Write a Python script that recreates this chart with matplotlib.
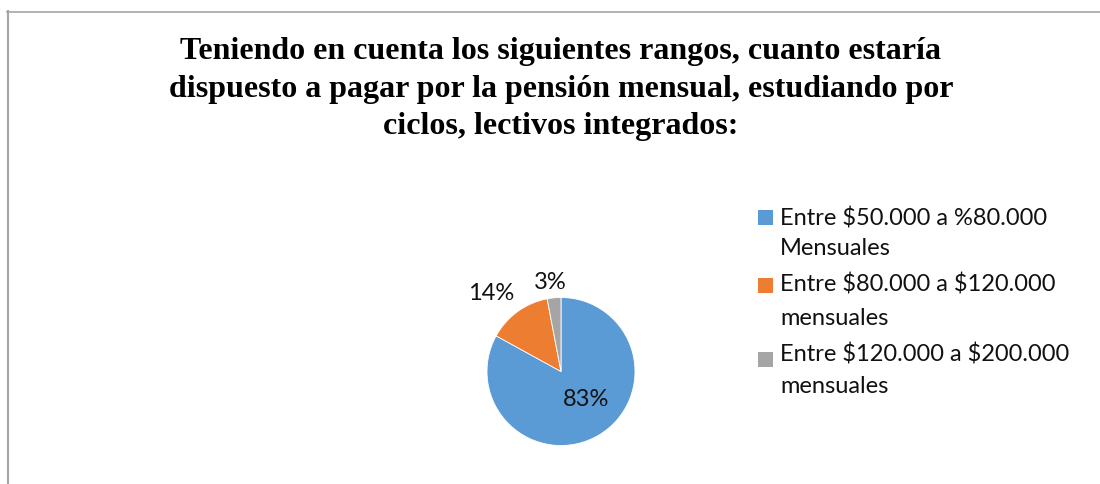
import matplotlib
matplotlib.use("Agg")
import matplotlib.pyplot as plt
from matplotlib.patches import Rectangle
from matplotlib.lines import Line2D

title = ("Teniendo en cuenta los siguientes rangos, cuanto estaría\n"
         "dispuesto a pagar por la pensión mensual, estudiando por\n"
         "ciclos, lectivos integrados:")
categories = ["Entre $50.000 a %80.000\nMensuales",
              "Entre $80.000 a $120.000\nmensuales",
              "Entre $120.000 a $200.000\nmensuales"]
values = [83, 14, 3]
colors = ["#5B9BD5", "#ED7D31", "#A5A5A5"]

W, H = 1100, 484
fig = plt.figure(figsize=(W / 100, H / 100), dpi=100)
fig.patch.set_facecolor("white")

def fx(x):
    return x / W

def fy(y):
    return 1 - y / H

# border
fig.add_artist(Line2D([fx(7.5), fx(7.5)], [fy(11), fy(484)], color="#A6A6A6", lw=1.5, transform=fig.transFigure))
fig.add_artist(Line2D([fx(7), fx(1100)], [fy(11.5), fy(11.5)], color="#A6A6A6", lw=1.2, transform=fig.transFigure))

# title
fig.text(fx(561), fy(89), title, ha="center", va="center", family="Liberation Serif",
         fontweight="bold", fontsize=23, linespacing=1.38)

# pie
cx, cy, r = 561, 371.5, 74
ax = fig.add_axes([fx(cx - r), fy(cy + r), 2 * r / W, 2 * r / H])
wedges, texts, autotexts = ax.pie(values, colors=colors, startangle=90, counterclock=False,
                                  autopct=lambda p: f"{p:.0f}%",
                                  wedgeprops=dict(edgecolor="white", linewidth=0.6),
                                  textprops=dict(family="Lato", fontsize=17, color="#111111"))
ax.set_xlim(-1, 1)
ax.set_ylim(-1, 1)
label_pos = [(0.34, -0.38), (-0.95, 1.05), (-0.15, 1.2)]
for t, p in zip(autotexts, label_pos):
    t.set_position(p)
    t.set_clip_on(False)

# legend
marker_top = [210, 278, 352]
line_base = [[225, 255], [292, 325], [362, 393]]
for lab, col, mt, bases in zip(categories, colors, marker_top, line_base):
    fig.add_artist(Rectangle((fx(758), fy(mt + 15)), 15 / W, 15 / H, facecolor=col,
                             edgecolor="none", transform=fig.transFigure))
    for line, b in zip(lab.split("\n"), bases):
        fig.text(fx(780), fy(b), line.replace("$", r"\$"), ha="left", va="baseline",
                 family="Lato", fontsize=17, color="#111111")

fig.savefig("out.png", dpi=100)
